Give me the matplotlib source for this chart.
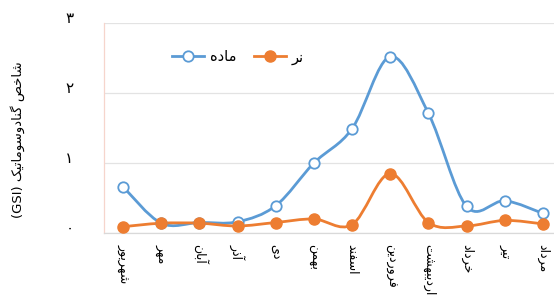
import matplotlib
matplotlib.use("Agg")
import matplotlib.pyplot as plt
import matplotlib.transforms as mtransforms
from matplotlib.path import Path
from matplotlib.patches import PathPatch
from matplotlib.lines import Line2D
from matplotlib.ticker import FuncFormatter

# ---------------- data ----------------
months = ["شهریور", "مهر", "آبان", "آذر", "دی", "بهمن", "اسفند",
          "فروردین", "اردیبهشت", "خرداد", "تیر", "مرداد"]
female = [0.66, 0.14, 0.15, 0.16, 0.39, 1.00, 1.49, 2.52, 1.71, 0.38, 0.46, 0.28]
male = [0.09, 0.14, 0.14, 0.10, 0.15, 0.20, 0.12, 0.85, 0.15, 0.10, 0.18, 0.13]
female_label = "ماده"
male_label = "نر"
ylabel_fa = "شاخص گنادوسوماتیک"
ylabel_en = "(GSI)"
yticks = [0, 1, 2, 3]

# ---------------- Persian shaping ----------------
FORMS = {  # isolated, final, initial, medial
    "ا": ("\uFE8D", "\uFE8E", None, None),
    "آ": ("\uFE81", "\uFE82", None, None),
    "ب": ("\uFE8F", "\uFE90", "\uFE91", "\uFE92"),
    "ت": ("\uFE95", "\uFE96", "\uFE97", "\uFE98"),
    "خ": ("\uFEA5", "\uFEA6", "\uFEA7", "\uFEA8"),
    "د": ("\uFEA9", "\uFEAA", None, None),
    "ذ": ("\uFEAB", "\uFEAC", None, None),
    "ر": ("\uFEAD", "\uFEAE", None, None),
    "س": ("\uFEB1", "\uFEB2", "\uFEB3", "\uFEB4"),
    "ش": ("\uFEB5", "\uFEB6", "\uFEB7", "\uFEB8"),
    "ص": ("\uFEB9", "\uFEBA", "\uFEBB", "\uFEBC"),
    "ف": ("\uFED1", "\uFED2", "\uFED3", "\uFED4"),
    "ل": ("\uFEDD", "\uFEDE", "\uFEDF", "\uFEE0"),
    "م": ("\uFEE1", "\uFEE2", "\uFEE3", "\uFEE4"),
    "ن": ("\uFEE5", "\uFEE6", "\uFEE7", "\uFEE8"),
    "ه": ("\uFEE9", "\uFEEA", "\uFEEB", "\uFEEC"),
    "و": ("\uFEED", "\uFEEE", None, None),
    "ی": ("\uFBFC", "\uFBFD", "\uFBFE", "\uFBFF"),
    "ک": ("\uFB8E", "\uFB8F", "\uFB90", "\uFB91"),
    "گ": ("\uFB92", "\uFB93", "\uFB94", "\uFB95"),
}


def joins_left(c):
    return c in FORMS and FORMS[c][2] is not None


def shape(word):
    out = []
    for i, c in enumerate(word):
        if c not in FORMS:
            out.append(c)
            continue
        prev = word[i - 1] if i > 0 else None
        nxt = word[i + 1] if i + 1 < len(word) else None
        jp = prev is not None and joins_left(prev)
        jn = joins_left(c) and nxt is not None and nxt in FORMS
        iso, fin, ini, med = FORMS[c]
        if jp and jn:
            out.append(med)
        elif jp:
            out.append(fin)
        elif jn:
            out.append(ini)
        else:
            out.append(iso)
    return "".join(out)[::-1]


def fa(text):
    words = text.split(" ")
    return " ".join(shape(w) for w in reversed(words))


FA_DIGITS = "۰۱۲۳۴۵۶۷۸۹"

# ---------------- figure ----------------
plt.rcParams["font.family"] = ["DejaVu Sans"]
W, H = 554, 296
fig = plt.figure(figsize=(W / 100, H / 100), dpi=100)
left_px, right_px, top_px, bot_px = 104, 562, 23, 233
ax = fig.add_axes([left_px / W, 1 - bot_px / H, (right_px - left_px) / W, (bot_px - top_px) / H])

x = list(range(len(months)))
blue = "#5B9BD5"
orange = "#ED7D31"


def smooth_path(xs, ys):
    pts = list(zip(xs, ys))
    verts = [pts[0]]
    codes = [Path.MOVETO]
    n = len(pts)
    for i in range(n - 1):
        p0 = pts[i - 1] if i > 0 else pts[i]
        p1 = pts[i]
        p2 = pts[i + 1]
        p3 = pts[i + 2] if i + 2 < n else pts[i + 1]
        c1 = (p1[0] + (p2[0] - p0[0]) / 6, p1[1] + (p2[1] - p0[1]) / 6)
        c2 = (p2[0] - (p3[0] - p1[0]) / 6, p2[1] - (p3[1] - p1[1]) / 6)
        verts += [c1, c2, p2]
        codes += [Path.CURVE4] * 3
    return Path(verts, codes)


for ys, col in [(female, blue), (male, orange)]:
    ax.add_patch(PathPatch(smooth_path(x, ys), facecolor="none", edgecolor=col,
                           lw=2.0, zorder=3, capstyle="round", joinstyle="round"))

ax.plot(x, female, linestyle="none", marker="o", ms=7.5, mfc="white", mec=blue, mew=1.3, zorder=4)
ax.plot(x, male, linestyle="none", marker="o", ms=8, mfc=orange, mec=orange, zorder=4)

ax.set_xlim(-0.5, len(months) - 0.5)
ax.set_ylim(0, 3)
ax.set_yticks(yticks)
ax.yaxis.set_major_formatter(FuncFormatter(lambda v, p: FA_DIGITS[int(round(v))]))
ax.grid(axis="y", color="#E3E3E3", lw=0.9)
ax.set_axisbelow(True)

for s in ["top", "right"]:
    ax.spines[s].set_visible(False)
ax.spines["left"].set_color("#F6D5CC")
ax.spines["left"].set_linewidth(0.9)
ax.spines["bottom"].set_color("#D9D9D9")
ax.spines["bottom"].set_linewidth(0.9)
ax.tick_params(axis="both", length=0)
ax.tick_params(axis="y", pad=22, labelsize=11)
for lbl in ax.get_yticklabels():
    lbl.set_transform(lbl.get_transform() + mtransforms.ScaledTranslation(0, 6 / 100, fig.dpi_scale_trans))

ax.set_xticks(x)
ax.set_xticklabels([fa(m) for m in months], rotation=-90, fontsize=9, va="top", ha="center")
ax.tick_params(axis="x", pad=8)

fig.text(18 / W, 1 - 140 / H, ylabel_en + " " + fa(ylabel_fa), rotation=90,
         ha="center", va="center", fontsize=9.5)

handles = [Line2D([], [], color=blue, lw=2.0, marker="o", ms=7.5, mfc="white", mec=blue, mew=1.3),
           Line2D([], [], color=orange, lw=2.0, marker="o", ms=8, mfc=orange, mec=orange)]
ax.legend(handles, [fa(female_label), fa(male_label)], ncol=2, frameon=False,
          loc="center left", bbox_to_anchor=((172 - left_px) / (right_px - left_px), (bot_px - 57) / (bot_px - top_px)),
          fontsize=10.5, handlelength=2.2, handletextpad=0.4, columnspacing=1.2, borderaxespad=0, borderpad=0)

fig.savefig("out.png", dpi=100)
